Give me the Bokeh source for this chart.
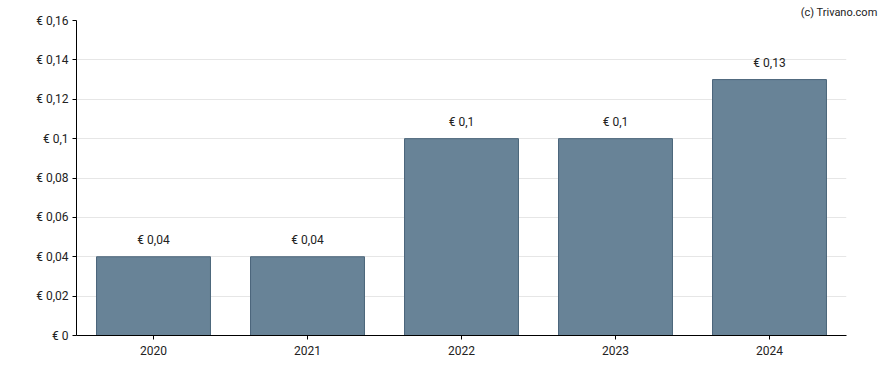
from bokeh.plotting import figure
from bokeh.models import ColumnDataSource, FixedTicker, CustomJSTickFormatter, Title, Range1d
from bokeh.embed import file_html
from bokeh.resources import INLINE
from bokeh.core.properties import value

years = ["2020", "2021", "2022", "2023", "2024"]
dividends = [0.04, 0.04, 0.10, 0.10, 0.13]
y_ticks = [0, 0.02, 0.04, 0.06, 0.08, 0.10, 0.12, 0.14, 0.16]

def fmt(v):
    s = ("%.2f" % v).rstrip("0").rstrip(".")
    return "€ " + s.replace(".", ",")

labels = [fmt(v) for v in dividends]
src = ColumnDataSource(dict(x=years, top=dividends, label=labels))

FONT = "Roboto"
p = figure(x_range=years, width=888, height=370, output_backend="svg",
           toolbar_location=None, min_border_left=76, min_border_right=42,
           min_border_top=20, min_border_bottom=35)
p.y_range = Range1d(0, 0.16)
p.outline_line_color = None
p.background_fill_color = "white"

p.vbar(x="x", top="top", width=0.74, source=src, fill_color="#688397",
       line_color="#4b657a", line_width=1)
p.text(x="x", y="top", text="label", source=src, text_align="center",
       text_baseline="middle", y_offset=-17, text_font=value(FONT),
       text_font_size="12px", text_color="#222222")

p.xgrid.grid_line_color = None
p.ygrid.grid_line_color = "#e6e6e6"
p.ygrid.ticker = FixedTicker(ticks=y_ticks)

p.yaxis.ticker = FixedTicker(ticks=y_ticks)
p.yaxis.formatter = CustomJSTickFormatter(code="""
    var v = Math.round(tick*100)/100;
    return "€ " + v.toString().replace(".", ",");
""")
for ax in (p.xaxis, p.yaxis):
    ax.axis_line_color = "black"
    ax.major_tick_line_color = "black"
    ax.major_tick_out = 4
    ax.major_tick_in = 0
    ax.minor_tick_line_color = None
    ax.major_label_text_font = FONT
    ax.major_label_text_font_size = "12px"
    ax.major_label_text_color = "#222222"
    ax.major_label_standoff = 4
p.xaxis.major_label_standoff = 6

credit = Title(text="(c) Trivano.com", align="right", offset=-31, standoff=4,
               text_font=FONT, text_font_size="11px", text_font_style="normal",
               text_color="#222222")
p.add_layout(credit, "above")

open("out.html", "w").write(file_html(p, INLINE))
